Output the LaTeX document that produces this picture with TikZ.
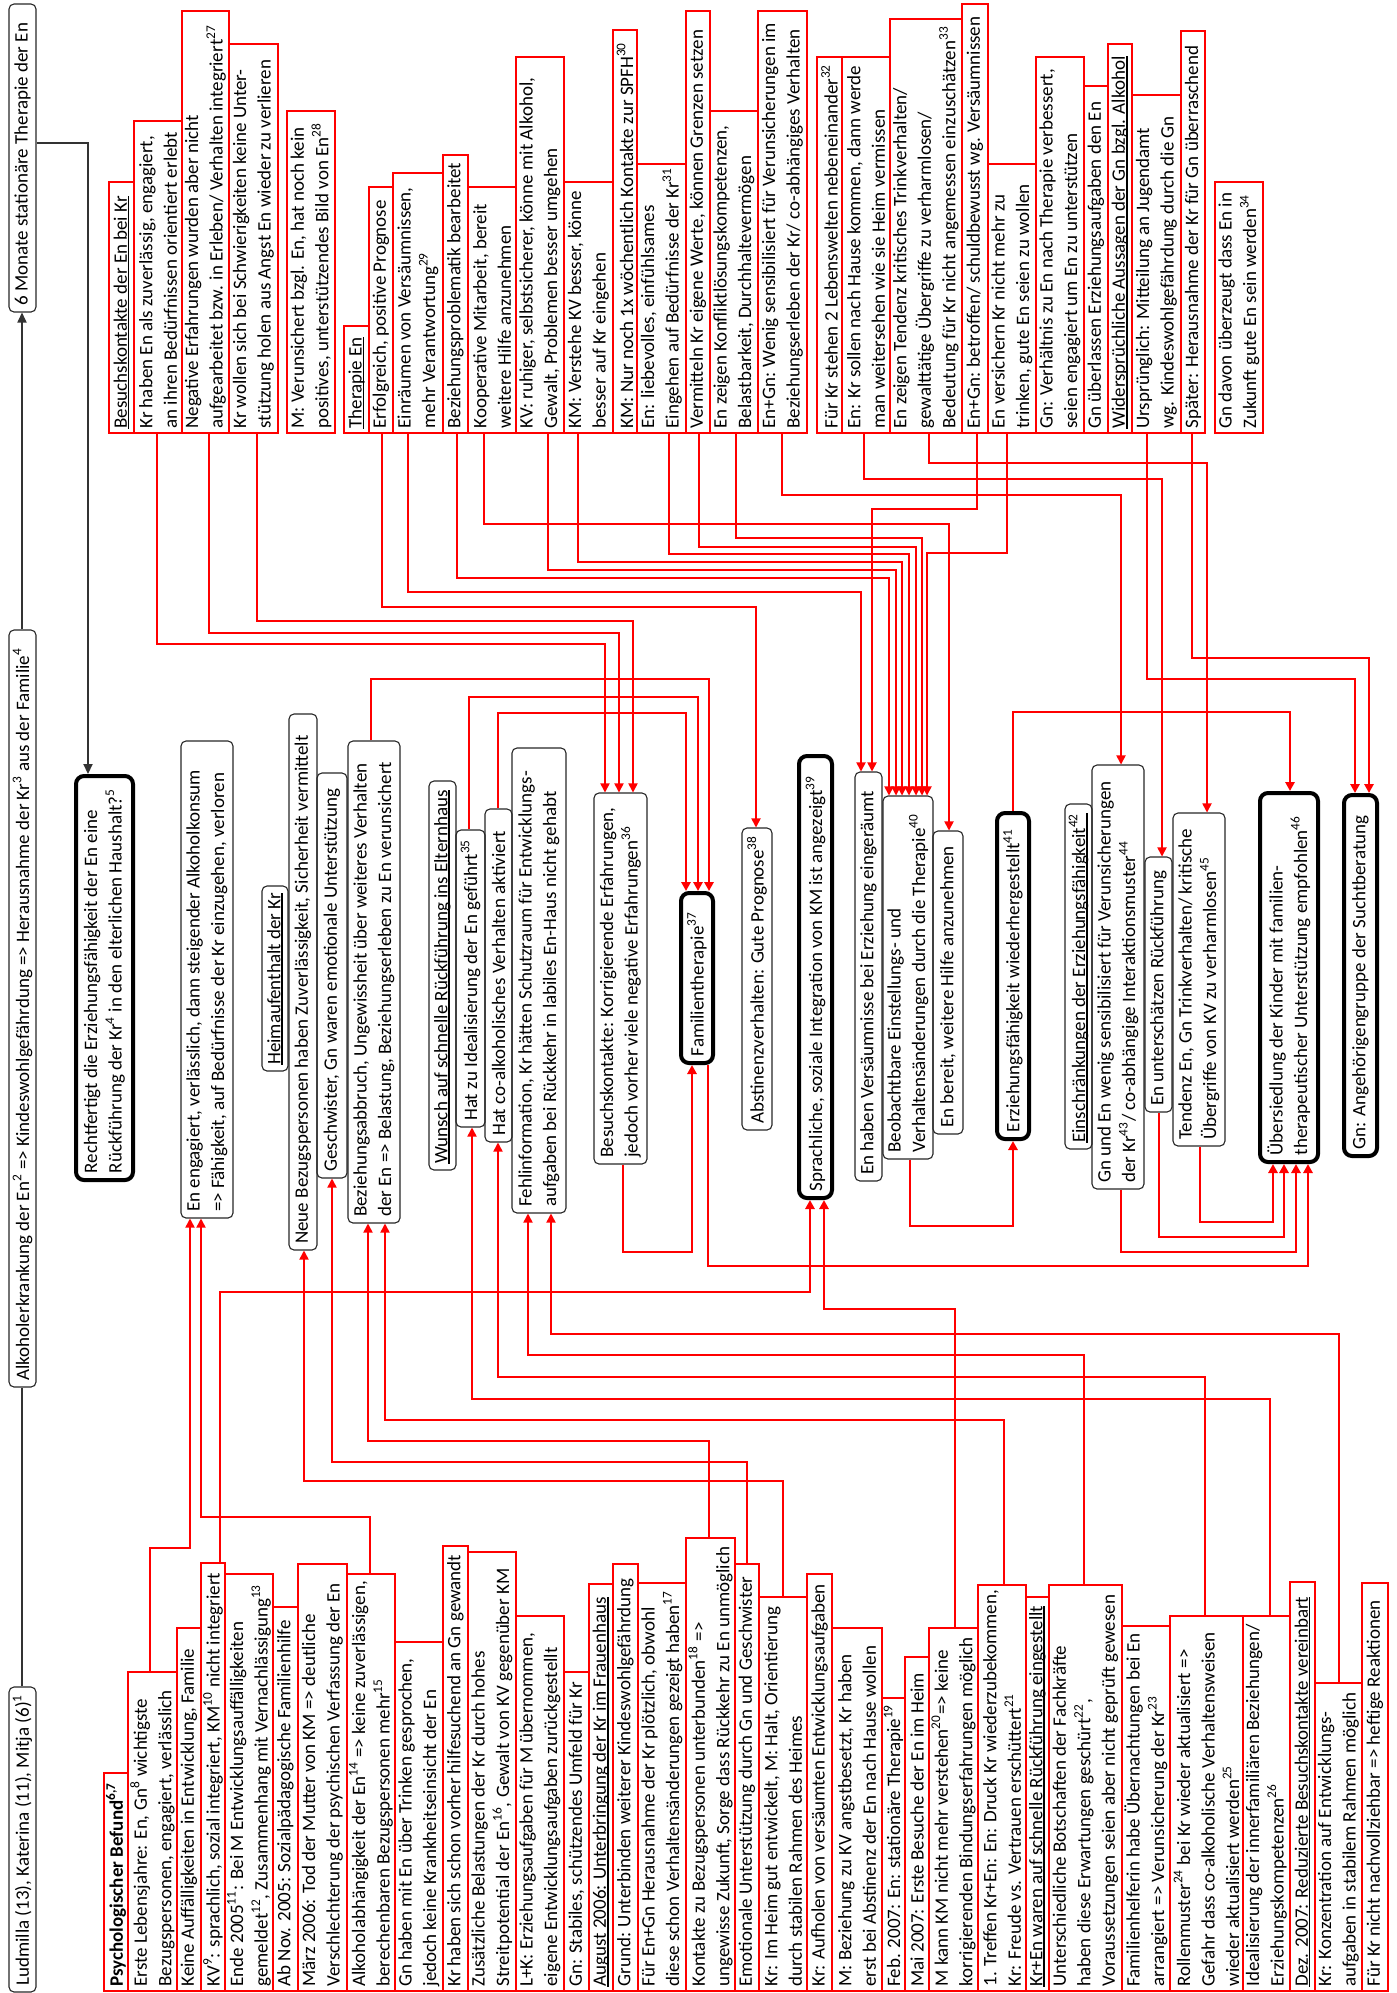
\documentclass[tikz,border=0pt]{standalone}
\usepackage{fontspec}
\setmainfont{Carlito}
\usetikzlibrary{arrows.meta}

% underline drawn as a rule of its own thickness
\newsavebox{\ulsavebox}
\newcommand\ulbar[1]{\sbox\ulsavebox{#1}\rlap{\rule[-1.3pt]{\wd\ulsavebox}{0.8pt}}\usebox\ulsavebox}

% box from its extent across (x1,x2) and along (ytop,ybot) the text; the text starts at the bottom edge
\newcommand\mkbox[7]{%
  \node[#1, minimum width={(#6-#5)*0.5pt}, minimum height={(#4-#3)*0.5pt}] (#2) at ({(#3+#4)/2},{(#5+#6)/2}) {};
  \node[#1 txt, anchor=west] (#2-t) at (#2.west) {#7};
}

\tikzset{
  rbox/.style={draw=red, line width=0.7pt, rotate=90, inner sep=0pt},
  bbox/.style={draw=black!85, line width=0.55pt, rounded corners=2.5pt, rotate=90, inner sep=0pt},
  tbox/.style={draw=black, line width=2pt, rounded corners=4pt, rotate=90, inner sep=0pt},
  rbox txt/.style={rotate=90, align=left, inner xsep=2.4pt, inner ysep=0pt},
  bbox txt/.style={rotate=90, align=left, inner xsep=3.2pt, inner ysep=0pt},
  tbox txt/.style={rotate=90, align=left, inner xsep=4.2pt, inner ysep=0pt},
  rthin/.style={draw=red, line width=0.6pt},
  rthick/.style={draw=red, line width=1.2pt},
  rarrow/.style={-{Triangle[length=4.5pt,width=4.6pt]}},
  bline/.style={draw=black!80, line width=0.6pt},
  barrow/.style={-{Triangle[length=5pt,width=4.6pt]}},
}

\begin{document}
\begin{tikzpicture}[x=0.5pt, y=-0.5pt,
  every node/.style={font=\fontsize{9.5}{12.25}\selectfont}]
\useasboundingbox (0,0) rectangle (1397,1993);

% ---------- headline row ----------
\mkbox{bbox}{T1}{9}{36}{1687}{1992}{Ludmilla (13), Katerina (11), Mitja (6)\textsuperscript{1}}
\mkbox{bbox}{T2}{9}{36}{630}{1387}{Alkoholerkrankung der En\textsuperscript{2} => Kindeswohlgefährdung => Herausnahme der Kr\textsuperscript{3} aus der Familie\textsuperscript{4}}
\mkbox{bbox}{T3}{9}{36}{4}{312}{6 Monate stationäre Therapie der En}
\mkbox{tbox}{R}{76}{133}{776}{1180}{Rechtfertigt die Erziehungsfähigkeit der En eine\\Rückführung der Kr\textsuperscript{4} in den elterlichen Haushalt?\textsuperscript{5}}

% ---------- findings after the therapy ----------
\mkbox{rbox}{u1}{109}{134}{182}{433}{\ulbar{Besuchskontakte der En bei Kr}}
\mkbox{rbox}{u2}{134}{182}{121}{433}{Kr haben En als zuverlässig, engagiert,\\an ihren Bedürfnissen orientiert erlebt}
\mkbox{rbox}{u3}{182}{229}{11}{433}{Negative Erfahrungen wurden aber nicht\\aufgearbeitet bzw. in Erleben/ Verhalten integriert\textsuperscript{27}}
\mkbox{rbox}{u4}{229}{278}{44}{433}{Kr wollen sich bei Schwierigkeiten keine Unter-\\stützung holen aus Angst En wieder zu verlieren}
\mkbox{rbox}{u5}{287}{335}{111}{433}{M: Verunsichert bzgl. En, hat noch kein\\positives, unterstützendes Bild von En\textsuperscript{28}}
\mkbox{rbox}{u6}{344}{369}{326}{433}{\ulbar{Therapie En}}
\mkbox{rbox}{u7}{369}{393}{187}{433}{Erfolgreich, positive Prognose}
\mkbox{rbox}{u8}{393}{443}{173}{433}{Einräumen von Versäumnissen,\\mehr Verantwortung\textsuperscript{29}}
\mkbox{rbox}{u9}{443}{468}{155}{433}{Beziehungsproblematik bearbeitet}
\mkbox{rbox}{u10}{468}{516}{187}{433}{Kooperative Mitarbeit, bereit\\weitere Hilfe anzunehmen}
\mkbox{rbox}{u11}{516}{564}{57}{433}{KV: ruhiger, selbstsicherer, könne mit Alkohol,\\Gewalt, Problemen besser umgehen}
\mkbox{rbox}{u12}{564}{613}{182}{433}{KM: Verstehe KV besser, könne\\besser auf Kr eingehen}
\mkbox{rbox}{u13}{613}{637}{30}{433}{KM: Nur noch 1x wöchentlich Kontakte zur SPFH\textsuperscript{30}}
\mkbox{rbox}{u14}{637}{686}{164}{433}{En: liebevolles, einfühlsames\\Eingehen auf Bedürfnisse der Kr\textsuperscript{31}}
\mkbox{rbox}{u15}{686}{710}{11}{433}{Vermitteln Kr eigene Werte, können Grenzen setzen}
\mkbox{rbox}{u16}{710}{758}{111}{433}{En zeigen Konfliktlösungskompetenzen,\\Belastbarkeit, Durchhaltevermögen}
\mkbox{rbox}{u17}{758}{807}{11}{433}{En+Gn: Wenig sensibilisiert für Verunsicherungen im\\Beziehungserleben der Kr/ co-abhängiges Verhalten}
\mkbox{rbox}{u18}{817}{842}{57}{433}{Für Kr stehen 2 Lebenswelten nebeneinander\textsuperscript{32}}
\mkbox{rbox}{u19}{842}{890}{57}{433}{En: Kr sollen nach Hause kommen, dann werde\\man weitersehen wie sie Heim vermissen}
\mkbox{rbox}{u20}{890}{962}{19}{433}{En zeigen Tendenz kritisches Trinkverhalten/\\gewalttätige Übergriffe zu verharmlosen/\\Bedeutung für Kr nicht angemessen einzuschätzen\textsuperscript{33}}
\mkbox{rbox}{u21}{962}{988}{4}{433}{En+Gn: betroffen/ schuldbewusst wg. Versäumnissen}
\mkbox{rbox}{u22}{988}{1036}{164}{433}{En versichern Kr nicht mehr zu\\trinken, gute En seien zu wollen}
\mkbox{rbox}{u23}{1036}{1084}{57}{433}{Gn: Verhältnis zu En nach Therapie verbessert,\\seien engagiert um En zu unterstützen}
\mkbox{rbox}{u24}{1084}{1108}{86}{433}{Gn überlassen Erziehungsaufgaben den En}
\mkbox{rbox}{u25}{1108}{1132}{44}{433}{\ulbar{Widersprüchliche Aussagen der Gn bzgl. Alkohol}}
\mkbox{rbox}{u26}{1132}{1181}{95}{433}{Ursprünglich: Mitteilung an Jugendamt\\wg. Kindeswohlgefährdung durch die Gn}
\mkbox{rbox}{u27}{1181}{1205}{31}{433}{Später: Herausnahme der Kr für Gn überraschend}
\mkbox{rbox}{u28}{1215}{1263}{182}{433}{Gn davon überzeugt dass En in\\Zukunft gute En sein werden\textsuperscript{34}}

% ---------- assessment ----------
\mkbox{bbox}{m1}{181}{233}{741}{1218}{En engagiert, verlässlich, dann steigender Alkoholkonsum\\=> Fähigkeit, auf Bedürfnisse der Kr einzugehen, verloren}
\mkbox{bbox}{m2}{262}{288}{886}{1071}{\ulbar{Heimaufenthalt der Kr}}
\mkbox{bbox}{m3}{289}{317}{714}{1250}{Neue Bezugspersonen haben Zuverlässigkeit, Sicherheit vermittelt}
\mkbox{bbox}{m4}{317}{347}{773}{1178}{Geschwister, Gn waren emotionale Unterstützung}
\mkbox{bbox}{m5}{348}{400}{741}{1223}{Beziehungsabbruch, Ungewissheit über weiteres Verhalten\\der En => Belastung, Beziehungserleben zu En verunsichert}
\mkbox{bbox}{m6}{429}{456}{781}{1170}{\ulbar{Wunsch auf schnelle Rückführung ins Elternhaus}}
\mkbox{bbox}{m7}{456}{485}{830}{1127}{Hat zu Idealisierung der En geführt\textsuperscript{35}}
\mkbox{bbox}{m8}{485}{512}{809}{1142}{Hat co-alkoholisches Verhalten aktiviert}
\mkbox{bbox}{m9}{512}{566}{748}{1213}{Fehlinformation, Kr hätten Schutzraum für Entwicklungs-\\aufgaben bei Rückkehr in labiles En-Haus nicht gehabt}
\mkbox{bbox}{m10}{594}{647}{793}{1164}{Besuchskontakte: Korrigierende Erfahrungen,\\jedoch vorher viele negative Erfahrungen\textsuperscript{36}}
\mkbox{tbox}{m11}{681}{713}{893}{1063}{Familientherapie\textsuperscript{37}}
\mkbox{bbox}{m12}{742}{772}{828}{1130}{Abstinenzverhalten: Gute Prognose\textsuperscript{38}}
\mkbox{tbox}{m13}{799}{832}{756}{1198}{Sprachliche, soziale Integration von KM ist angezeigt\textsuperscript{39}}
\mkbox{bbox}{m14}{855}{882}{772}{1181}{En haben Versäumnisse bei Erziehung eingeräumt}
\mkbox{bbox}{m15}{883}{933}{796}{1159}{Beobachtbare Einstellungs- und\\Verhaltensänderungen durch die Therapie\textsuperscript{40}}
\mkbox{bbox}{m16}{933}{963}{831}{1134}{En bereit, weitere Hilfe anzunehmen}
\mkbox{tbox}{m17}{997}{1029}{813}{1139}{Erziehungsfähigkeit wiederhergestellt\textsuperscript{41}}
\mkbox{bbox}{m18}{1065}{1092}{804}{1149}{\ulbar{Einschränkungen der Erziehungsfähigkeit\textsuperscript{42}}}
\mkbox{bbox}{m19}{1092}{1144}{765}{1189}{Gn und En wenig sensibilisiert für Verunsicherungen\\der Kr\textsuperscript{43}/ co-abhängige Interaktionsmuster\textsuperscript{44}}
\mkbox{bbox}{m20}{1145}{1172}{857}{1112}{En unterschätzen Rückführung}
\mkbox{bbox}{m21}{1173}{1225}{813}{1146}{Tendenz En, Gn Trinkverhalten/ kritische\\Übergriffe von KV zu verharmlosen\textsuperscript{45}}
\mkbox{tbox}{m22}{1260}{1318}{793}{1162}{Übersiedlung der Kinder mit familien-\\therapeutischer Unterstützung empfohlen\textsuperscript{46}}
\mkbox{tbox}{m23}{1344}{1377}{795}{1156}{Gn: Angehörigengruppe der Suchtberatung}

% ---------- history ----------
\mkbox{rbox}{l1}{104}{128}{1773}{1991}{\textbf{Psychologischer Befund\textsuperscript{6,7}}}
\mkbox{rbox}{l2}{128}{177}{1672}{1991}{Erste Lebensjahre: En, Gn\textsuperscript{8} wichtigste\\Bezugspersonen, engagiert, verlässlich}
\mkbox{rbox}{l3}{177}{201}{1628}{1991}{Keine Auffälligkeiten in Entwicklung, Familie}
\mkbox{rbox}{l4}{201}{225}{1563}{1991}{KV\textsuperscript{9}: sprachlich, sozial integriert, KM\textsuperscript{10} nicht integriert}
\mkbox{rbox}{l5}{225}{273}{1574}{1991}{Ende 2005\textsuperscript{11}: Bei M Entwicklungsauffälligkeiten\\gemeldet\textsuperscript{12}, Zusammenhang mit Vernachlässigung\textsuperscript{13}}
\mkbox{rbox}{l6}{273}{298}{1607}{1991}{Ab Nov. 2005: Sozialpädagogische Familienhilfe}
\mkbox{rbox}{l7}{298}{347}{1564}{1991}{März 2006: Tod der Mutter von KM => deutliche\\Verschlechterung der psychischen Verfassung der En}
\mkbox{rbox}{l8}{347}{395}{1574}{1991}{Alkoholabhängigkeit der En\textsuperscript{14} => keine zuverlässigen,\\berechenbaren Bezugspersonen mehr\textsuperscript{15}}
\mkbox{rbox}{l9}{395}{443}{1642}{1991}{Gn haben mit En über Trinken gesprochen,\\jedoch keine Krankheitseinsicht der En}
\mkbox{rbox}{l10}{443}{468}{1546}{1991}{Kr haben sich schon vorher hilfesuchend an Gn gewandt}
\mkbox{rbox}{l11}{468}{516}{1552}{1991}{Zusätzliche Belastungen der Kr durch hohes\\Streitpotential der En\textsuperscript{16}, Gewalt von KV gegenüber KM}
\mkbox{rbox}{l12}{516}{564}{1616}{1991}{L+K: Erziehungsaufgaben für M übernommen,\\eigene Entwicklungsaufgaben zurückgestellt}
\mkbox{rbox}{l13}{564}{589}{1672}{1991}{Gn: Stabiles, schützendes Umfeld für Kr}
\mkbox{rbox}{l14}{589}{613}{1584}{1991}{\ulbar{August 2006: Unterbringung der Kr im Frauenhaus}}
\mkbox{rbox}{l15}{613}{638}{1564}{1991}{Grund: Unterbinden weiterer Kindeswohlgefährdung}
\mkbox{rbox}{l16}{638}{686}{1583}{1991}{Für En+Gn Herausnahme der Kr plötzlich, obwohl\\diese schon Verhaltensänderungen gezeigt haben\textsuperscript{17}}
\mkbox{rbox}{l17}{686}{735}{1538}{1991}{Kontakte zu Bezugspersonen unterbunden\textsuperscript{18} =>\\ungewisse Zukunft, Sorge dass Rückkehr zu En unmöglich}
\mkbox{rbox}{l18}{735}{759}{1564}{1991}{Emotionale Unterstützung durch Gn und Geschwister}
\mkbox{rbox}{l19}{759}{807}{1597}{1991}{Kr: Im Heim gut entwickelt, M: Halt, Orientierung\\durch stabilen Rahmen des Heimes}
\mkbox{rbox}{l20}{807}{832}{1574}{1991}{Kr: Aufholen von versäumten Entwicklungsaufgaben}
\mkbox{rbox}{l21}{832}{882}{1628}{1991}{M: Beziehung zu KV angstbesetzt, Kr haben\\erst bei Abstinenz der En nach Hause wollen}
\mkbox{rbox}{l22}{882}{905}{1698}{1991}{Feb. 2007: En: stationäre Therapie\textsuperscript{19}}
\mkbox{rbox}{l23}{905}{929}{1657}{1991}{Mai 2007: Erste Besuche der En im Heim}
\mkbox{rbox}{l24}{929}{978}{1628}{1991}{M kann KM nicht mehr verstehen\textsuperscript{20}=> keine\\korrigierenden Bindungserfahrungen möglich}
\mkbox{rbox}{l25}{978}{1026}{1585}{1991}{1. Treffen Kr+En: En: Druck Kr wiederzubekommen,\\Kr: Freude vs. Vertrauen erschüttert\textsuperscript{21}}
\mkbox{rbox}{l26}{1026}{1049}{1597}{1991}{\ulbar{Kr+En waren auf schnelle Rückführung eingestellt}}
\mkbox{rbox}{l27}{1049}{1122}{1585}{1991}{Unterschiedliche Botschaften der Fachkräfte\\haben diese Erwartungen geschürt\textsuperscript{22},\\Voraussetzungen seien aber nicht geprüft gewesen}
\mkbox{rbox}{l28}{1122}{1170}{1626}{1991}{Familienhelferin habe Übernachtungen bei En\\arrangiert => Verunsicherung der Kr\textsuperscript{23}}
\mkbox{rbox}{l29}{1170}{1243}{1616}{1991}{Rollenmuster\textsuperscript{24} bei Kr wieder aktualisiert =>\\Gefahr dass co-alkoholische Verhaltensweisen\\wieder aktualisiert werden\textsuperscript{25}}
\mkbox{rbox}{l30}{1243}{1290}{1616}{1991}{Idealisierung der innerfamiliären Beziehungen/\\Erziehungskompetenzen\textsuperscript{26}}
\mkbox{rbox}{l31}{1290}{1315}{1582}{1991}{\ulbar{Dez. 2007: Reduzierte Besuchskontakte vereinbart}}
\mkbox{rbox}{l32}{1315}{1362}{1683}{1991}{Kr: Konzentration auf Entwicklungs-\\aufgaben in stabilem Rahmen möglich}
\mkbox{rbox}{l33}{1362}{1388}{1583}{1991}{Für Kr nicht nachvollziehbar => heftige Reaktionen}

% ---------- black connectors ----------
\draw[bline] (T1.east -| 22,0) -- (T2.west -| 22,0);
\draw[bline, barrow] (T2.east -| 22,0) -- (T3.west -| 22,0);
\draw[bline, barrow] (T3.south |- 0,143) -| (R.east -| 88,0);

% ---------- findings -> assessment ----------
\draw[rthin, rarrow] (u2.west -| 157,0)  |- (605,644) -- (m10.east -| 605,0);
\draw[rthin, rarrow] (u3.west -| 209,0)  |- (619,633) -- (m10.east -| 619,0);
\draw[rthin, rarrow] (u4.west -| 257,0)  |- (633,621) -- (m10.east -| 633,0);
\draw[rthin, rarrow] (u7.west -| 382,0)  |- (756,607) -- (m12.east -| 756,0);
\draw[rthin, rarrow] (u8.west -| 408,0)  |- (861,592) -- (m14.east -| 861,0);
\draw[rthin, rarrow] (u9.west -| 457,0)  |- (889,578) -- (m15.east -| 889,0);
\draw[rthin, rarrow] (u10.west -| 484,0) |- (949,524) -- (m16.east -| 949,0);
\draw[rthin, rarrow] (u11.west -| 548,0) |- (896,570) -- (m15.east -| 896,0);
\draw[rthin, rarrow] (u12.west -| 578,0) |- (902,562) -- (m15.east -| 902,0);
\draw[rthin, rarrow] (u14.west -| 669,0) |- (909,554) -- (m15.east -| 909,0);
\draw[rthin, rarrow] (u15.west -| 699,0) |- (916,547) -- (m15.east -| 916,0);
\draw[rthin, rarrow] (u16.west -| 736,0) |- (922,538) -- (m15.east -| 922,0);
\draw[rthin, rarrow] (u17.west -| 782,0) |- (1121,495) -- (m19.east -| 1121,0);
\draw[rthin, rarrow] (u19.west -| 864,0) |- (1162,479) -- (m20.east -| 1162,0);
\draw[rthin, rarrow] (u20.west -| 929,0) |- (1207,463) -- (m21.east -| 1207,0);
\draw[rthin, rarrow] (u21.west -| 977,0) |- (872,509) -- (m14.east -| 872,0);
\draw[rthin, rarrow] (u22.west -| 1007,0) |- (927,553) -- (m15.east -| 927,0);
\draw[rthick, rarrow] (u26.west -| 1147,0) |- (1355,679) -- (m23.east -| 1355,0);
\draw[rthick, rarrow] (u27.west -| 1192,0) |- (1369,658) -- (m23.east -| 1369,0);

% ---------- assessment -> conclusions ----------
\draw[rthick, rarrow] (m5.east -| 371,0)  |- (709,679) -- (m11.east -| 709,0);
\draw[rthick, rarrow] (m7.east -| 469,0)  |- (698,697) -- (m11.east -| 698,0);
\draw[rthick, rarrow] (m8.east -| 498,0)  |- (686,713) -- (m11.east -| 686,0);
\draw[rthick, rarrow] (m10.west -| 623,0) |- (692,1252) -- (m11.west -| 692,0);
\draw[rthick, rarrow] (m11.west -| 708,0) |- (1308,1266) -- (m22.west -| 1308,0);
\draw[rthick, rarrow] (m15.west -| 910,0) |- (1013,1226) -- (m17.west -| 1013,0);
\draw[rthick, rarrow] (m17.east -| 1013,0) |- (1290,712) -- (m22.east -| 1290,0);
\draw[rthick, rarrow] (m21.west -| 1200,0) |- (1273,1222) -- (m22.west -| 1273,0);
\draw[rthick, rarrow] (m20.west -| 1159,0) |- (1284,1237) -- (m22.west -| 1284,0);
\draw[rthick, rarrow] (m19.west -| 1121,0) |- (1296,1252) -- (m22.west -| 1296,0);
\draw[rthick, rarrow] (l24.east -| 955,0) |- (824,1309) -- (m13.west -| 824,0);
\draw[rthick, rarrow] (l4.east -| 220,0)  |- (810,1292) -- (m13.west -| 810,0);

% ---------- history -> assessment ----------
\draw[rthin, rarrow] (l2.east -| 150,0)   |- (190,1548) -- (m1.west -| 190,0);
\draw[rthin, rarrow] (l8.east -| 370,0)   |- (201,1517) -- (m1.west -| 201,0);
\draw[rthin, rarrow] (l17.east -| 709,0)  |- (368,1441) -- (m5.west -| 368,0);
\draw[rthin, rarrow] (l18.east -| 747,0)  |- (332,1462) -- (m4.west -| 332,0);
\draw[rthin, rarrow] (l19.east -| 783,0)  |- (304,1481) -- (m3.west -| 304,0);
\draw[rthin, rarrow] (l25.east -| 1004,0) |- (385,1420) -- (m5.west -| 385,0);
\draw[rthin, rarrow] (l27.east -| 1084,0) |- (528,1355) -- (m9.west -| 528,0);
\draw[rthin, rarrow] (l29.east -| 1205,0) |- (498,1377) -- (m8.west -| 498,0);
\draw[rthin, rarrow] (l30.east -| 1270,0) |- (472,1399) -- (m7.west -| 472,0);
\draw[rthin, rarrow] (l32.east -| 1339,0) |- (551,1334) -- (m9.west -| 551,0);
\end{tikzpicture}
\end{document}
